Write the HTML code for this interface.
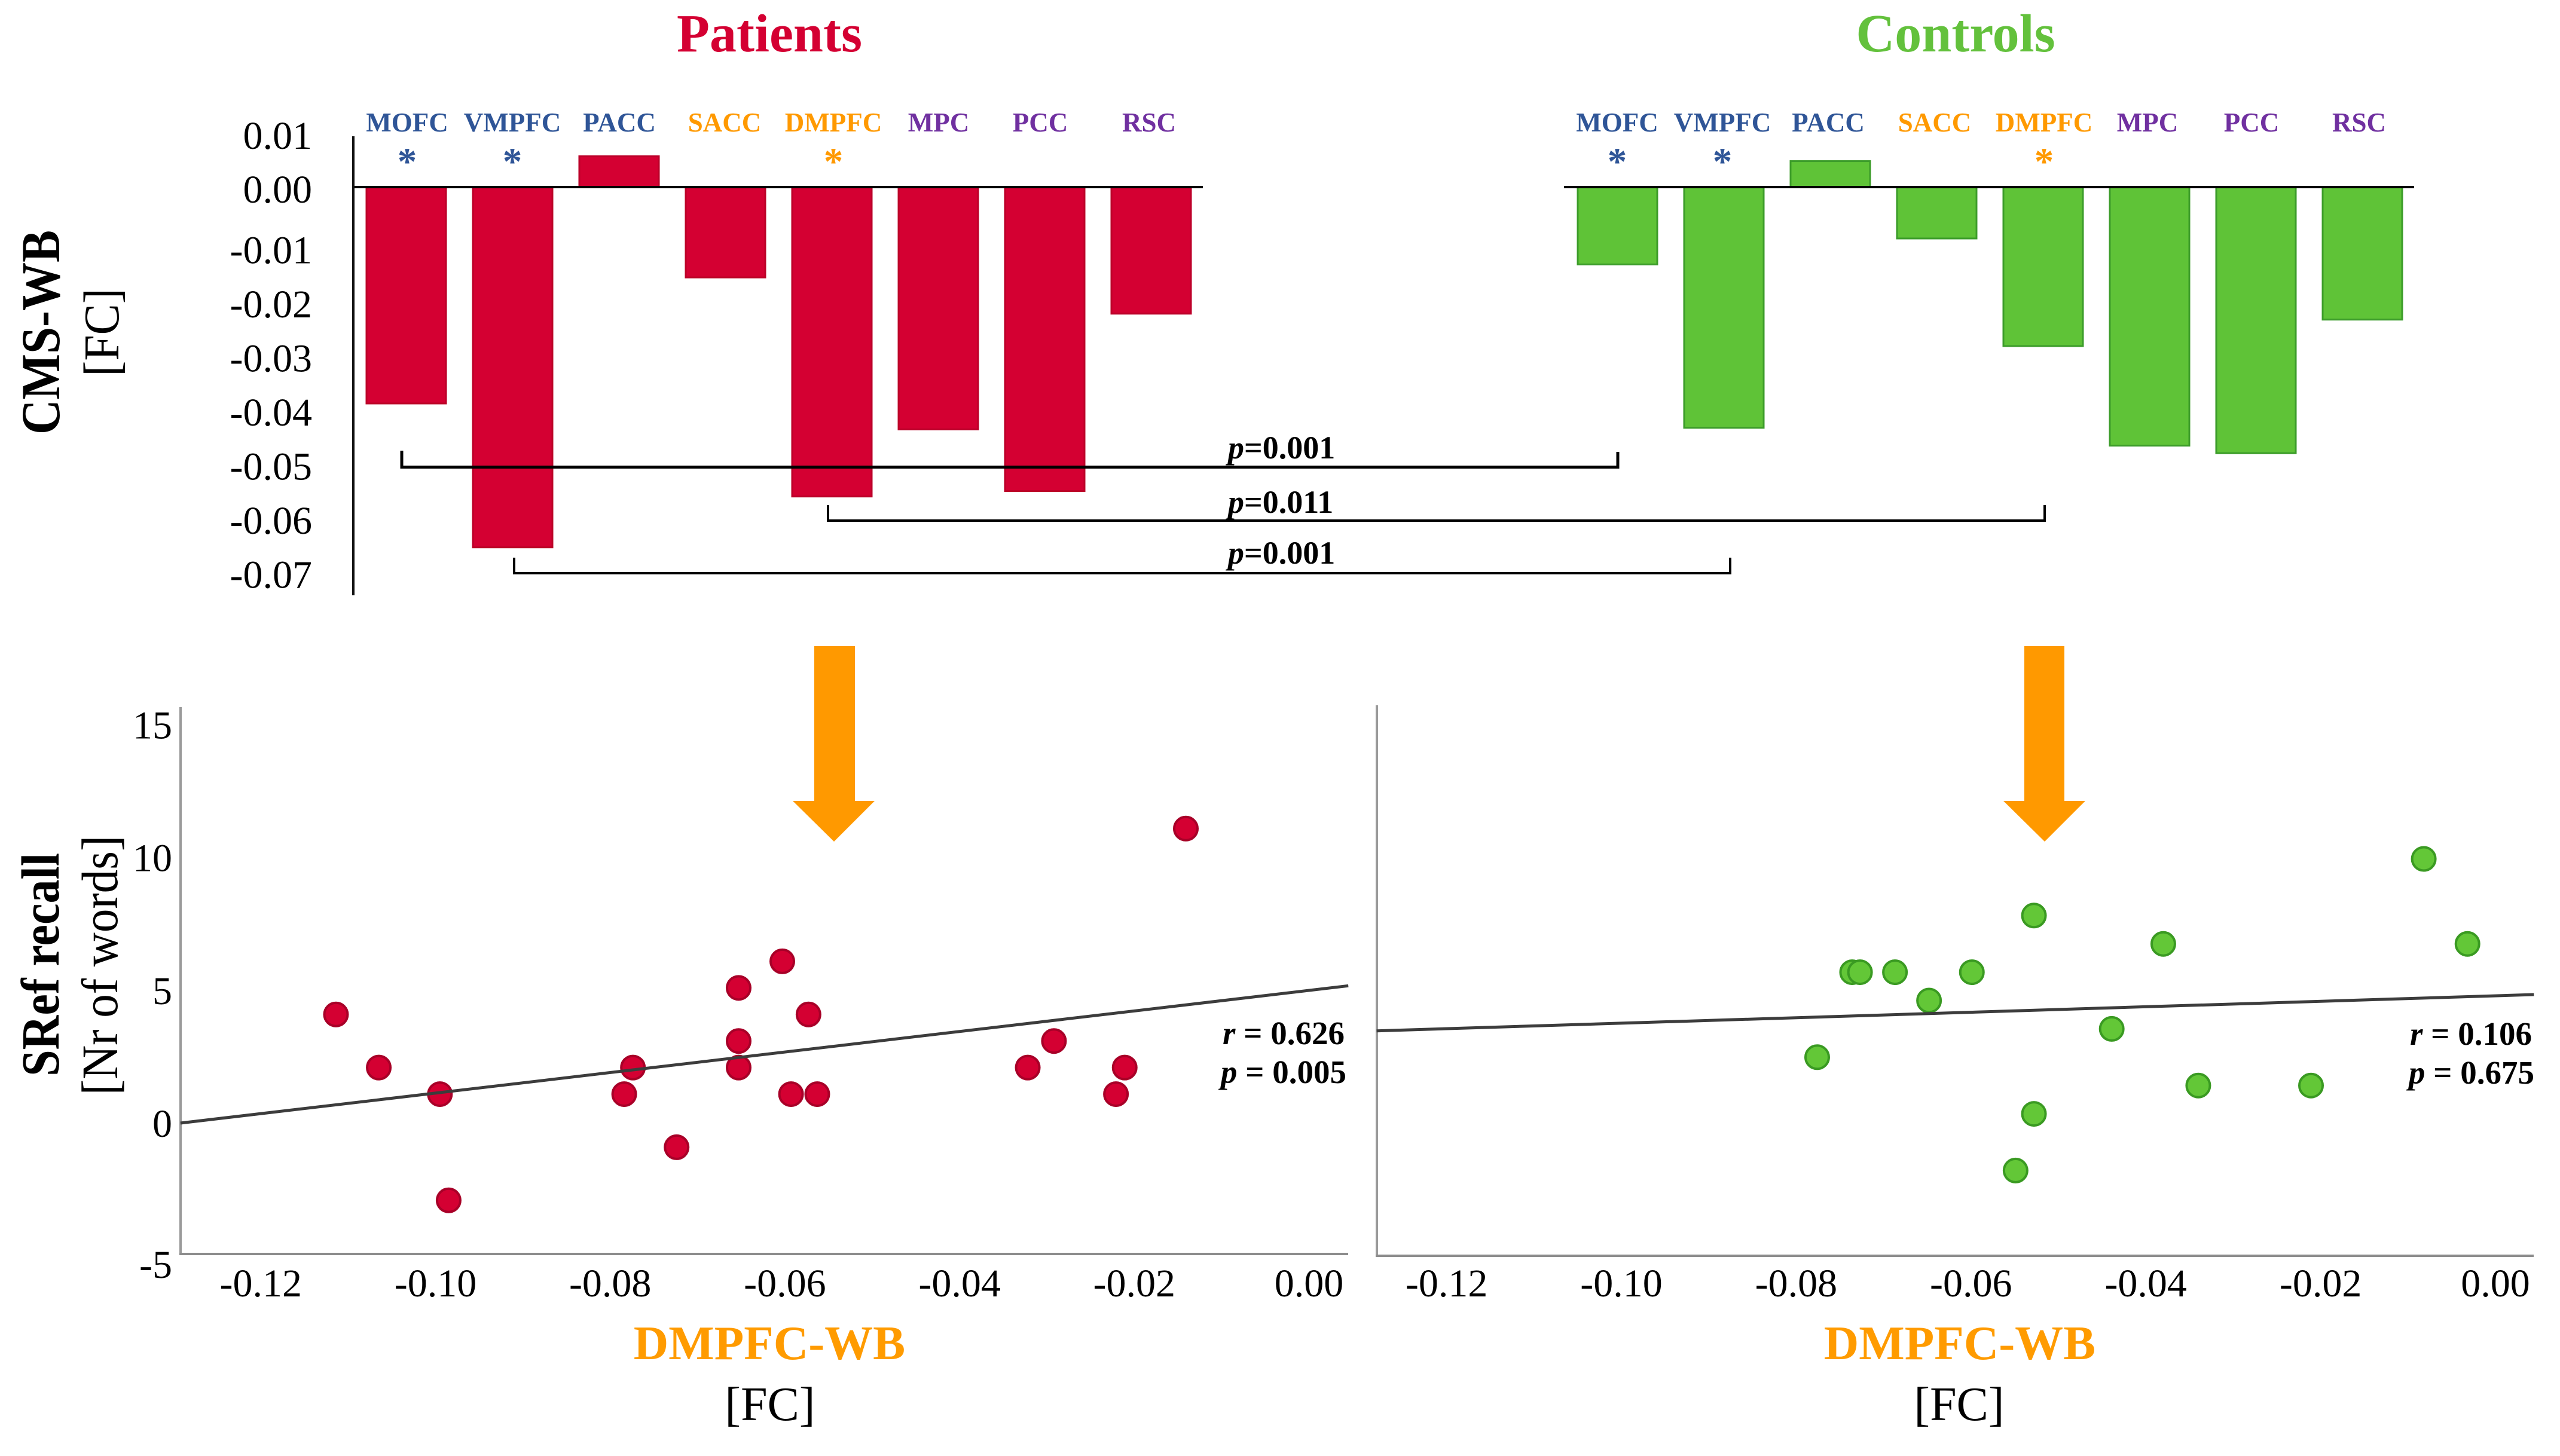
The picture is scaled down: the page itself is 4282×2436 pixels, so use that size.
<!DOCTYPE html>
<html lang="en">
<head>
<meta charset="utf-8">
<title>CMS-WB functional connectivity: Patients vs Controls</title>
<style>
html,body{margin:0;padding:0;background:#fff;}
svg{display:block;font-family:"Liberation Serif",serif;}
</style>
</head>
<body>
<svg id="figure" xmlns="http://www.w3.org/2000/svg" width="4282" height="2436" viewBox="0 0 4282 2436">
  <rect x="0" y="0" width="4282" height="2436" fill="#ffffff"/>

  <text x="1287" y="86" text-anchor="middle" font-size="90" font-weight="bold" fill="#D40032">Patients</text>
  <text x="3271" y="86" text-anchor="middle" font-size="90" font-weight="bold" fill="#63C13C">Controls</text>

  <text transform="translate(99,556) rotate(-90) scale(1,1.14)" text-anchor="middle" font-size="81" font-weight="bold" fill="#000">CMS-WB</text>
  <text transform="translate(198,556) rotate(-90) scale(1,1.08)" text-anchor="middle" font-size="78" fill="#000">[FC]</text>

  <text transform="translate(98,1614) rotate(-90) scale(1,1.12)" text-anchor="middle" font-size="80" font-weight="bold" fill="#000">SRef recall</text>
  <text transform="translate(196,1615) rotate(-90) scale(1,1.08)" text-anchor="middle" font-size="79" fill="#000">[Nr of words]</text>

  <g id="bars-layer"></g>

  <g fill="none" stroke="#000">
    <path d="M672 754V781.5H2706V756" stroke-width="5"/>
    <path d="M1385 845V871H3420V845" stroke-width="4"/>
    <path d="M860 933V959H2894V933" stroke-width="4"/>
  </g>
  <g font-size="54" font-weight="bold" fill="#000">
    <text x="2054" y="767"><tspan font-style="italic">p</tspan>=0.001</text>
    <text x="2054" y="858"><tspan font-style="italic">p</tspan>=0.011</text>
    <text x="2054" y="943"><tspan font-style="italic">p</tspan>=0.001</text>
  </g>

  <polygon points="1362,1081 1430,1081 1430,1340 1463,1340 1395,1408 1326,1340 1362,1340" fill="#FF9900"/>
  <polygon points="3386,1081 3453,1081 3453,1340 3488,1340 3420,1408 3351,1340 3386,1340" fill="#FF9900"/>

  <g id="scatter-layer"></g>

  <text x="2249" y="1747" text-anchor="end" font-size="55" font-weight="bold"><tspan font-style="italic">r</tspan> = 0.626</text>
  <text x="2252" y="1812" text-anchor="end" font-size="55" font-weight="bold"><tspan font-style="italic">p</tspan> = 0.005</text>
  <text x="4235" y="1748" text-anchor="end" font-size="55" font-weight="bold"><tspan font-style="italic">r</tspan> = 0.106</text>
  <text x="4239" y="1813" text-anchor="end" font-size="55" font-weight="bold"><tspan font-style="italic">p</tspan> = 0.675</text>

  <text x="1287" y="2274" text-anchor="middle" font-size="81" font-weight="bold" fill="#FF9B00">DMPFC-WB</text>
  <text x="1288" y="2376" text-anchor="middle" font-size="80" fill="#000">[FC]</text>
  <text x="3278" y="2274" text-anchor="middle" font-size="81" font-weight="bold" fill="#FF9B00">DMPFC-WB</text>
  <text x="3277" y="2376" text-anchor="middle" font-size="80" fill="#000">[FC]</text>
</svg>

<script>
var regionNames = ['MOFC','VMPFC','PACC','SACC','DMPFC','MPC','PCC','RSC'];
var regionGroups = ['blue','blue','blue','orange','orange','purple','purple','purple'];
var regionStars = [1,1,0,0,1,0,0,0];
var patientBarValues = [-0.0400,-0.0666,0.0057,-0.0167,-0.0572,-0.0448,-0.0562,-0.0234];
var controlBarValues = [-0.0143,-0.0445,0.0048,-0.0095,-0.0294,-0.0478,-0.0492,-0.0245];
var barTickValues = [0.01,0,-0.01,-0.02,-0.03,-0.04,-0.05,-0.06,-0.07];
var barTickLabels = ['0.01','0.00','-0.01','-0.02','-0.03','-0.04','-0.05','-0.06','-0.07'];

var scatterXTickValues = [-0.12,-0.10,-0.08,-0.06,-0.04,-0.02,0];
var scatterXTickLabels = ['-0.12','-0.10','-0.08','-0.06','-0.04','-0.02','0.00'];
var scatterYTickValues = [15,10,5,0,-5];
var scatterYTickLabels = ['15','10','5','0','-5'];

var patientX = [-0.1114,-0.1065,-0.0995,-0.0985,-0.0784,-0.0774,-0.0724,-0.0653,-0.0653,-0.0653,-0.0603,-0.0593,-0.0573,-0.0563,-0.0322,-0.0292,-0.0221,-0.0211,-0.0141];
var patientY = [4,2,1,-3,1,2,-1,5,3,2,6,1,4,1,2,3,1,2,11];
var patientFitX = [-0.1292,0.0045];
var patientFitY = [-0.09,5.08];

var controlX = [-0.0776,-0.0736,-0.0727,-0.0687,-0.0648,-0.0599,-0.0549,-0.0528,-0.0528,-0.0439,-0.0380,-0.0340,-0.0211,-0.0082,-0.0032];
var controlY = [3,6,6,6,5,6,-1,8,1,4,7,2,2,10,7];
var controlFitX = [-0.1280,0.0044];
var controlFitY = [3.93,5.21];

var SVGNS = 'http://www.w3.org/2000/svg';
var barsLayer = document.getElementById('bars-layer');
var scatterLayer = document.getElementById('scatter-layer');
var groupColors = {blue:'#2F5597',orange:'#FF9900',purple:'#7030A0'};

function make(tag, attrs, parent, text) {
  var el = document.createElementNS(SVGNS, tag);
  for (var k in attrs) { el.setAttribute(k, attrs[k]); }
  if (text !== undefined) { el.textContent = text; }
  parent.appendChild(el);
  return el;
}

/* ---- bar axis functions ---- */
var BAR_ZERO_Y = 313;
var BAR_UNIT = 9050;
function barY(v) { return BAR_ZERO_Y - BAR_UNIT * v; }
function barTickBaseline(v) { return v < 0 ? 350 - BAR_UNIT * v : 339 - 9000 * v; }
function barLeft(origin, i) { return origin + 178 * i; }

var BAR_WIDTH = 135;

function drawBars(prefix, values, origin, fill, edge, lineX1, lineX2, labelShift) {
  for (var i = 0; i < values.length; i++) {
    var yv = barY(values[i]);
    var rect = make('rect', {
      x: barLeft(origin, i) + 1,
      y: Math.min(yv, BAR_ZERO_Y),
      width: BAR_WIDTH - 2,
      height: Math.abs(yv - BAR_ZERO_Y),
      fill: fill,
      stroke: edge,
      'stroke-width': 3
    }, barsLayer);
    
    

    var cx = barLeft(origin, i) + BAR_WIDTH / 2 + labelShift[i];
    var lab = make('text', {
      x: cx, y: 220, 'text-anchor': 'middle', 'font-size': 45, 'font-weight': 'bold',
      fill: groupColors[regionGroups[i]]
    }, barsLayer, regionNames[i]);
    
    

    if (regionStars[i]) {
      var star = make('text', {
        x: cx, y: 292, 'text-anchor': 'middle', 'font-size': 65, 'font-weight': 'bold',
        fill: groupColors[regionGroups[i]]
      }, barsLayer, '*');
      
      
    }
  }
  var zero = make('line', {x1: lineX1, x2: lineX2, y1: BAR_ZERO_Y, y2: BAR_ZERO_Y, stroke: '#000', 'stroke-width': 4}, barsLayer);
  
  
}

drawBars('patients', patientBarValues, 612, '#D40032', '#BC0029', 591, 2012, [1.5,-0.5,0.5,-1.5,2.5,0.5,-7.5,-3.5]);
drawBars('controls', controlBarValues, 2638, '#5FC337', '#3C9C2A', 2616, 4038, [-0.5,-2.5,-3.5,-3.5,1.5,-3.5,-7.5,-5.5]);

var barAxis = make('line', {x1: 591, x2: 591, y1: 228, y2: 996, stroke: '#111', 'stroke-width': 4}, barsLayer);



for (var t = 0; t < barTickValues.length; t++) {
  var bt = make('text', {
    x: 522, y: barTickBaseline(barTickValues[t]), 'text-anchor': 'end', 'font-size': 66, fill: '#000'
  }, barsLayer, barTickLabels[t]);
  
  
}

/* ---- scatter axis functions ---- */
function xPatients(v) { return 2189.5 + 14610 * v; }
function yPatients(v) { return 1875 - 44.43 * v; }
function xControls(v) { return 4174 + 14620 * v; }
function yControls(v) { return 1911 - 47.4 * v; }

function drawScatter(prefix, xs, ys, fitX, fitY, xScale, yScale, fill, edge, axisLeft, axisTop, axisBottom, axisRight) {
  var yAxis = make('line', {x1: axisLeft, x2: axisLeft, y1: axisTop, y2: axisBottom + 2, stroke: '#9a9a9a', 'stroke-width': 4}, scatterLayer);
  
  

  var xAxis = make('line', {x1: axisLeft - 2, x2: axisRight, y1: axisBottom, y2: axisBottom, stroke: '#8c8c8c', 'stroke-width': 4}, scatterLayer);
  
  

  for (var i = 0; i < xs.length; i++) {
    var dot = make('circle', {
      cx: xScale(xs[i]), cy: yScale(ys[i]), r: 19.5, fill: fill, stroke: edge, 'stroke-width': 4
    }, scatterLayer);
    
    
  }

  var fit = make('line', {
    x1: xScale(fitX[0]), y1: yScale(fitY[0]), x2: xScale(fitX[1]), y2: yScale(fitY[1]),
    stroke: '#3c3c3c', 'stroke-width': 5
  }, scatterLayer);
  
  

  for (var t = 0; t < scatterXTickValues.length; t++) {
    var tx = make('text', {
      x: xScale(scatterXTickValues[t]), y: 2169, 'text-anchor': 'middle', 'font-size': 66, fill: '#000'
    }, scatterLayer, scatterXTickLabels[t]);
    
    
  }
}

drawScatter('patients', patientX, patientY, patientFitX, patientFitY, xPatients, yPatients, '#D40032', '#A80028', 302, 1183, 2098, 2255);
drawScatter('controls', controlX, controlY, controlFitX, controlFitY, xControls, yControls, '#63C737', '#3A9A22', 2303, 1180, 2101, 4238);

for (var s = 0; s < scatterYTickValues.length; s++) {
  var sv = scatterYTickValues[s];
  var sy = make('text', {
    x: 288, y: yPatients(sv) + (sv === -5 ? 41 : 27), 'text-anchor': 'end', 'font-size': 66, fill: '#000'
  }, scatterLayer, scatterYTickLabels[s]);
  
  
}
</script>
</body>
</html>
